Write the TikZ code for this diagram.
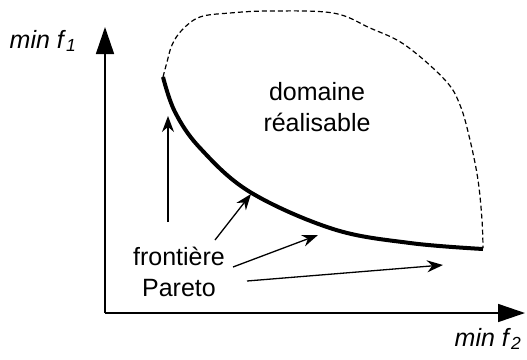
\documentclass[tikz,border=0pt]{standalone}
\usepackage{fontspec}
\setmainfont{Liberation Sans}
\usetikzlibrary{arrows.meta}
\begin{document}
\begin{tikzpicture}[x=1pt,y=-1pt,
  axis/.style={line width=1.6pt,-{Triangle[length=27pt,width=18pt]}},
  ptr/.style={line width=1.3pt,-{Stealth[length=16pt,width=12pt]}},
  lbl/.style={font=\fontsize{25}{29}\selectfont,align=center,inner sep=0pt},
  front/.style={line width=4pt},
  border/.style={line width=1.2pt,dash pattern=on 5pt off 3pt}]
\useasboundingbox (0,0) rectangle (527,359);
\coordinate (O) at (105,313);
\coordinate (ytop) at (105,27);
\coordinate (xend) at (525,313);
\draw[axis] (O) -- (ytop);
\draw[axis] (O) -- (xend);
\node[lbl,anchor=base] (ylab) at (43,48) {\textit{min f}\textsubscript{\textit{1}}};
\node[lbl,anchor=base] (xlab) at (488,346) {\textit{min f}\textsubscript{\textit{2}}};
% feasible domain border
\draw[border] plot[smooth,tension=0.6] coordinates {(163,77) (167,62) (172,45) (182,30) (200,17) (230,13) (270,11) (333,13) (370,28) (405,45) (445,80) (460,105) (470,140) (478,180) (482,220) (483,248)};
% Pareto front
\draw[front] plot[smooth,tension=0.6] coordinates {(163,77) (175,112) (200,148) (250,192) (333,229) (410,243) (483,249)};
\node[lbl] (dom) at (317,107) {domaine\\[2pt]réalisable};
\node[lbl] (par) at (179,272) {frontière\\[2pt]Pareto};
\coordinate (s1) at (168,222);
\coordinate (t1) at (168,116);
\coordinate (s2) at (215,240);
\coordinate (t2) at (251,194);
\coordinate (s3) at (233,267);
\coordinate (t3) at (318,235);
\coordinate (s4) at (247,281);
\coordinate (t4) at (443,265);
\draw[ptr] (s1) -- (t1);
\draw[ptr] (s2) -- (t2);
\draw[ptr] (s3) -- (t3);
\draw[ptr] (s4) -- (t4);
\end{tikzpicture}
\end{document}
